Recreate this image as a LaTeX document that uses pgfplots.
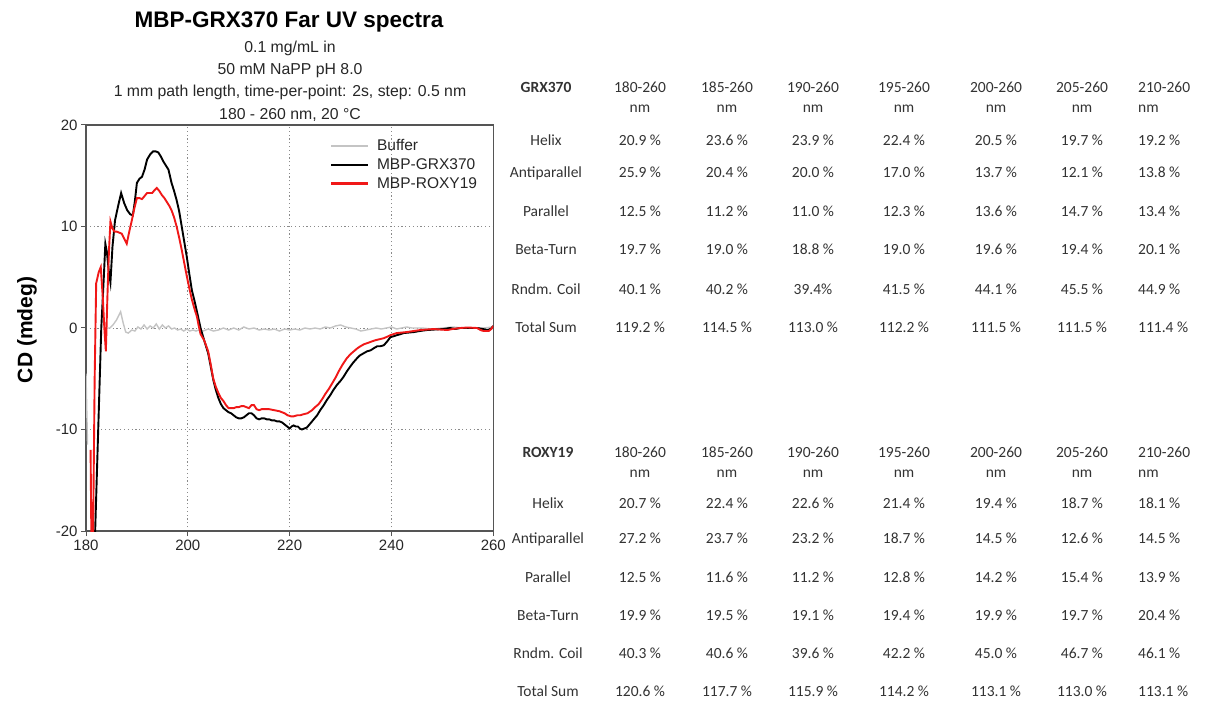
\documentclass[border=0pt]{standalone}
\usepackage{pgfplots}
\pgfplotsset{compat=1.18}
\usepackage{fontspec}
\setmainfont{Liberation Sans}
\newfontfamily\carlito{Carlito}

\definecolor{axisgray}{HTML}{555555}
\definecolor{gridgray}{HTML}{8A8A8A}
\definecolor{buffergray}{HTML}{C4C4C4}
\definecolor{cdred}{HTML}{F01818}
\definecolor{tabtext}{HTML}{333333}

\newcommand{\tabfont}{\carlito\fontsize{15.5}{17}\selectfont\color{tabtext}}

\begin{document}
\begin{tikzpicture}[x=1pt,y=1pt]
\path[use as bounding box] (0,0) rectangle (1209,702);

% ---------- titles ----------
\node[font=\bfseries\fontsize{22.5}{24}\selectfont, anchor=base] at (289,702-28) {MBP-GRX370 Far UV spectra};
\begin{scope}[every node/.style={font=\fontsize{15.8}{17}\selectfont, anchor=base, text=black!85}]
\node at (290,702-53) {0.1 mg/mL in};
\node at (290,702-75) {50 mM NaPP pH 8.0};
\node at (290,702-97) {1 mm path length, time-per-point: 2s, step: 0.5 nm};
\node at (290,702-120) {180 - 260 nm, 20 °C};
\end{scope}
\node[font=\bfseries\fontsize{21}{22}\selectfont, rotate=90, anchor=center] at (27,702-330) {CD (mdeg)};

% ---------- CD spectra ----------
\begin{axis}[
  at={(86pt,171pt)}, anchor=south west,
  scale only axis, width=407.3pt, height=406pt,
  xmin=180, xmax=260, ymin=-20, ymax=20,
  xtick={180,200,220,240,260}, ytick={-20,-10,0,10,20},
  tick align=outside, tick pos=left,
  major tick length=5pt,
  every tick/.style={axisgray, line width=1pt},
  axis line style={axisgray, line width=1.3pt},
  grid=major,
  major grid style={gridgray, line width=0.9pt, dash pattern=on 1.2pt off 2.6pt},
  ticklabel style={font=\fontsize{15}{15}\selectfont, text=black!85},
  /pgf/number format/assume math mode=true,
  clip=true,
  legend style={draw=none, fill=none, at={(0.598,0.968)}, anchor=north west,
    font=\fontsize{15.5}{16}\selectfont, row sep=3.5pt, column sep=6pt, inner sep=0pt,
    nodes={inner sep=1.5pt, text=black!85}},
  legend cell align=left,
  legend image code/.code={\draw[#1, line width=2.8pt] (0pt,0pt) -- (37pt,0pt);},
]

% Buffer baseline
\addplot[buffergray, line width=1.4pt] coordinates {
(183.6,-0.2) (184.2,0) (184.7,0) (185.3,0.3) (186,0.8) (186.8,1.6) (187.3,0.5) (187.8,-0.4)
(188.3,-0.5) (189,-0.2) (189.6,-0.3) (190.2,0.1) (190.8,-0.1) (191.4,0.3)
(192,-0.1) (192.6,0.2) (193.2,0.0) (193.8,0.4) (194.4,-0.1) (195,0.3)
(195.6,0.0) (196.2,0.2) (196.8,-0.1) (197.4,0.0) (198,-0.2) (198.6,-0.1)
(199.2,-0.3) (199.8,-0.1) (200.4,-0.3) (201,-0.2) (201.6,-0.3) (202.2,-0.2)
(203,-0.3) (204,-0.1) (205,-0.3) (206,-0.2) (207,0.0) (208,-0.2) (209,0.0)
(210,-0.2) (211,0.1) (212,-0.1) (213,0.0) (214,-0.2) (215,-0.1) (216,-0.2)
(217,-0.1) (218,-0.3) (219,-0.1) (220,-0.2) (221,-0.1) (222,-0.2) (223,0.0)
(224,-0.1) (225,0.0) (226,-0.1) (227,0.1) (228,0.0) (229,0.2) (230,0.3)
(231,0.1) (232,0.0) (233,-0.1) (234,-0.3) (235,-0.2) (236,-0.1) (237,0.0)
(238,-0.1) (239,0.0) (240,0.1) (241,-0.1) (242,0.0) (243,0.1) (244,0.0)
(246,0.0) (248,-0.1) (250,0.0) (252,0.1) (254,0.0) (256,0.0) (258,0.0) (260,0.1)
};
\addlegendentry{Buffer}

% MBP-GRX370
\addplot[black, line width=1.9pt] coordinates {
(180,-40) (181.5,-30) (181.8,-20) (182.4,-10) (183,0) (183.5,5) (183.8,8.3)
(184.1,7.5) (184.5,5.5) (184.8,4.5) (185.2,8.0) (185.7,10.6) (186.3,12.0)
(186.9,13.3) (187.5,12.3) (188.1,11.6) (188.7,11.2) (189.2,11.1) (189.6,12.5)
(190,14.3) (190.5,14.7) (191,14.9) (191.5,15.6) (192,16.6) (192.6,17.1)
(193.2,17.4) (193.7,17.4) (194.2,17.3) (194.7,16.9) (195.2,16.4) (195.7,16.0)
(196.2,15.6) (196.8,14.3) (197.3,13.5) (197.8,12.6) (198.3,11.5) (198.8,10.0)
(199.3,8.5) (199.8,7.0) (200.3,5.3) (200.8,3.7) (201.3,2.7) (201.8,1.6)
(202.5,0) (203.2,-1.2) (204,-2.5) (204.5,-3.8) (205,-5.1) (205.5,-6.1)
(206,-6.9) (206.5,-7.5) (207,-7.9) (207.5,-8.1) (208,-8.3) (208.5,-8.4)
(209,-8.6) (209.5,-8.8) (210,-8.9) (210.5,-8.9) (211,-8.8) (211.5,-8.6)
(212,-8.4) (212.5,-8.4) (213,-8.6) (213.5,-8.9) (214,-9.0) (214.5,-8.9)
(215,-8.9) (215.5,-9.0) (216,-9.0) (216.5,-9.1) (217,-9.1) (217.5,-9.2)
(218,-9.2) (218.5,-9.3) (219,-9.5) (219.5,-9.7) (220,-9.9) (220.4,-9.7)
(220.8,-9.6) (221.2,-9.7) (221.6,-9.7) (222,-9.9) (222.4,-10.0) (222.9,-9.9)
(223.4,-9.8) (223.9,-9.5) (224.4,-9.2) (224.9,-8.9) (225.4,-8.6) (226,-8.1)
(226.7,-7.6) (227.3,-7.1) (228,-6.6) (228.6,-6.1) (229.3,-5.6) (230,-5.2)
(230.6,-4.8) (231.2,-4.3) (231.9,-3.8) (232.5,-3.4) (233.2,-3.0) (233.8,-2.7)
(234.5,-2.5) (235.2,-2.3) (235.9,-2.2) (236.5,-2.0) (237.2,-1.8) (237.8,-1.8)
(238.5,-1.7) (239.2,-1.3) (239.8,-0.9) (240.5,-0.8) (241.1,-0.7) (241.8,-0.6)
(242.4,-0.5) (243.4,-0.45) (244.4,-0.4) (245.5,-0.3) (247,-0.2) (248.5,-0.15)
(250.3,-0.1) (251.5,0) (252.5,-0.1) (253.5,0) (255,0) (256.8,0) (258,-0.1)
(258.8,-0.2) (259.5,-0.1) (260,0.2)
};
\addlegendentry{MBP-GRX370}

% MBP-ROXY19
\addplot[cdred, line width=1.9pt] coordinates {
(180.9,-12) (181.15,-26) (181.4,-20) (181.7,-5) (182.0,4.4) (182.5,5.5)
(182.9,6.0) (183.3,3) (183.6,0) (183.9,-2.3) (184.2,3) (184.5,7.5) (184.8,10.5)
(185.2,9.8) (185.6,9.5) (186,9.5) (186.5,9.4) (187,9.3) (187.5,8.8) (188,8.3)
(188.5,9.5) (189,10.6) (189.5,11.8) (190,12.8) (190.5,12.8) (191,12.7)
(191.5,13.0) (192,13.3) (192.5,13.3) (193,13.3) (193.5,13.6) (193.9,13.8)
(194.4,13.5) (194.9,13.1) (195.4,12.8) (195.9,12.4) (196.4,12.0) (196.8,11.6)
(197.3,10.9) (197.8,10.0) (198.3,8.9) (198.8,7.7) (199.3,6.4) (199.8,5.1)
(200.3,3.9) (200.8,2.8) (201.3,1.9) (201.8,1.1) (202.1,0.3) (202.5,-0.6)
(203.2,-1.2) (204,-2.3) (204.5,-3.6) (205,-5.0) (205.5,-5.8) (206,-6.4)
(206.5,-6.9) (207,-7.2) (207.5,-7.6) (208,-7.9) (208.5,-7.9) (209,-7.9)
(209.5,-7.8) (210,-7.8) (210.5,-7.7) (211,-7.7) (211.5,-7.8) (212,-7.9)
(212.5,-7.6) (213,-7.6) (213.5,-8.0) (214,-8.1) (214.5,-8.0) (215,-8.0)
(216,-8.0) (217,-8.1) (218,-8.2) (219,-8.4) (219.6,-8.6) (220.2,-8.7)
(220.8,-8.7) (221.5,-8.6) (222.1,-8.6) (222.7,-8.5) (223.5,-8.4) (224.4,-8.1)
(225,-7.8) (225.7,-7.5) (226.4,-7.0) (227,-6.5) (227.7,-6.0) (228.3,-5.5)
(229,-4.9) (229.6,-4.3) (230.4,-3.6) (231.2,-3.0) (231.9,-2.6) (232.6,-2.3)
(233.3,-2.0) (233.9,-1.8) (234.6,-1.6) (235.2,-1.5) (236,-1.35) (236.9,-1.2)
(237.7,-1.1) (238.5,-1.0) (239.2,-0.85) (239.8,-0.7) (241,-0.5) (242,-0.45)
(243,-0.4) (244.3,-0.3) (245.7,-0.2) (247,-0.15) (248.3,-0.1) (249.5,-0.15)
(251,-0.2) (252,-0.1) (253.5,0) (255,0.05) (256.8,0) (257.5,-0.2) (258.1,-0.3)
(259.1,-0.3) (259.6,-0.1) (260,0.2)
};
\addlegendentry{MBP-ROXY19}

% short buffer segment at the start of the scan
\addplot[buffergray, line width=1.4pt, forget plot] coordinates {(180,-4.5) (180.3,-11.5)};
\end{axis}

% ---------- secondary-structure tables ----------
\begin{scope}[every node/.style={font=\tabfont, anchor=base, inner sep=0pt}]
% GRX370
\node[font=\tabfont\bfseries] at (546,702-93) {GRX370};
\foreach \x/\h in {640/180-260,727/185-260,813/190-260,904/195-260,996/200-260,1082/205-260}
  {\node at (\x,702-93) {\h}; \node at (\x,702-113) {nm};}
\node[anchor=base west] at (1138,702-93) {210-260};
\node[anchor=base west] at (1138,702-113) {nm};
\foreach \y/\lab/\a/\b/\c/\d/\e/\f/\g in {
  146/Helix/20.9 \%/23.6 \%/23.9 \%/22.4 \%/20.5 \%/19.7 \%/19.2 \%,
  178/Antiparallel/25.9 \%/20.4 \%/20.0 \%/17.0 \%/13.7 \%/12.1 \%/13.8 \%,
  217/Parallel/12.5 \%/11.2 \%/11.0 \%/12.3 \%/13.6 \%/14.7 \%/13.4 \%,
  255/Beta-Turn/19.7 \%/19.0 \%/18.8 \%/19.0 \%/19.6 \%/19.4 \%/20.1 \%,
  295/Rndm. Coil/40.1 \%/40.2 \%/39.4\%/41.5 \%/44.1 \%/45.5 \%/44.9 \%,
  333/Total Sum/119.2 \%/114.5 \%/113.0 \%/112.2 \%/111.5 \%/111.5 \%/111.4 \%}{
  \node at (546,702-\y) {\lab};
  \node at (640,702-\y) {\a};
  \node at (727,702-\y) {\b};
  \node at (813,702-\y) {\c};
  \node at (904,702-\y) {\d};
  \node at (996,702-\y) {\e};
  \node at (1082,702-\y) {\f};
  \node[anchor=base west] at (1138,702-\y) {\g};
}
% ROXY19
\node[font=\tabfont\bfseries] at (548,702-457) {ROXY19};
\foreach \x/\h in {640/180-260,727/185-260,813/190-260,904/195-260,996/200-260,1082/205-260}
  {\node at (\x,702-457) {\h}; \node at (\x,702-477) {nm};}
\node[anchor=base west] at (1138,702-457) {210-260};
\node[anchor=base west] at (1138,702-477) {nm};
\foreach \y/\lab/\a/\b/\c/\d/\e/\f/\g in {
  508/Helix/20.7 \%/22.4 \%/22.6 \%/21.4 \%/19.4 \%/18.7 \%/18.1 \%,
  543/Antiparallel/27.2 \%/23.7 \%/23.2 \%/18.7 \%/14.5 \%/12.6 \%/14.5 \%,
  582/Parallel/12.5 \%/11.6 \%/11.2 \%/12.8 \%/14.2 \%/15.4 \%/13.9 \%,
  620/Beta-Turn/19.9 \%/19.5 \%/19.1 \%/19.4 \%/19.9 \%/19.7 \%/20.4 \%,
  658/Rndm. Coil/40.3 \%/40.6 \%/39.6 \%/42.2 \%/45.0 \%/46.7 \%/46.1 \%,
  696/Total Sum/120.6 \%/117.7 \%/115.9 \%/114.2 \%/113.1 \%/113.0 \%/113.1 \%}{
  \node at (548,702-\y) {\lab};
  \node at (640,702-\y) {\a};
  \node at (727,702-\y) {\b};
  \node at (813,702-\y) {\c};
  \node at (904,702-\y) {\d};
  \node at (996,702-\y) {\e};
  \node at (1082,702-\y) {\f};
  \node[anchor=base west] at (1138,702-\y) {\g};
}
\end{scope}
\end{tikzpicture}
\end{document}
